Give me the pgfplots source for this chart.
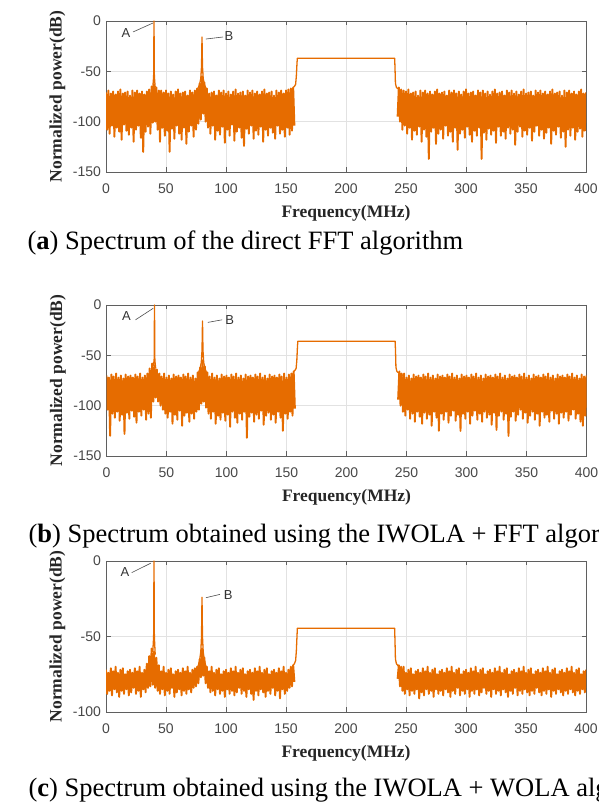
\documentclass[border=0pt]{standalone}
\usepackage{fontspec}
\setmainfont{Liberation Serif}
\setsansfont{Liberation Sans}
\usepackage{pgfplots}
\usepackage{pgfplotstable}
\pgfplotsset{compat=1.18}

\definecolor{spec}{RGB}{230,108,0}
\definecolor{axgray}{RGB}{95,95,95}
\definecolor{gridgray}{RGB}{226,226,226}

% noise floor of the three spectra (dB), columns a, b, c = panels (a), (b), (c)
\pgfplotstableread{
x a b c
0 -71 -70 -72
1 -108 -104 -88
2 -69 -72 -74
3 -112 -130 -86
4 -72 -69 -71
5 -104 -108 -89
6 -70 -71 -73
7 -115 -112 -85
8 -73 -68 -70
9 -106 -106 -87
10 -70 -72 -74
11 -110 -115 -90
12 -68 -70 -72
13 -118 -109 -86
14 -72 -73 -71
15 -103 -128 -88
16 -71 -69 -75
17 -109 -107 -85
18 -70 -71 -73
19 -113 -113 -89
20 -74 -70 -72
21 -106 -105 -87
22 -69 -72 -74
23 -120 -111 -84
24 -71 -69 -71
25 -108 -117 -88
26 -69 -71 -73
27 -104 -106 -86
28 -72 -68 -70
29 -116 -110 -90
30 -70 -72 -74
31 -130 -104 -85
32 -73 -70 -72
33 -110 -114 -87
34 -70 -68 -68
35 -105 -108 -84
36 -68 -63 -63
37 -112 -112 -83
38 -65 -58 -58
39 -101 -96 -82
40 -63 -60 -60
41 -100 -92 -84
42 -66 -64 -64
43 -108 -96 -86
44 -69 -68 -69
45 -120 -100 -88
46 -69 -71 -73
47 -106 -104 -85
48 -71 -68 -70
49 -114 -108 -89
50 -69 -72 -74
51 -109 -112 -86
52 -72 -70 -72
53 -130 -106 -88
54 -70 -73 -71
55 -107 -118 -84
56 -73 -69 -75
57 -117 -109 -90
58 -70 -71 -73
59 -104 -114 -87
60 -68 -70 -72
61 -112 -105 -85
62 -72 -72 -74
63 -118 -120 -89
64 -71 -69 -71
65 -106 -110 -86
66 -70 -71 -73
67 -122 -107 -88
68 -74 -68 -70
69 -110 -116 -85
70 -69 -72 -74
71 -104 -108 -87
72 -71 -70 -72
73 -115 -113 -84
74 -69 -73 -71
75 -108 -106 -83
76 -67 -67 -70
77 -102 -104 -81
78 -62 -62 -65
79 -98 -98 -77
80 -55 -55 -58
81 -92 -96 -76
82 -61 -61 -64
83 -100 -102 -81
84 -67 -67 -70
85 -106 -108 -84
86 -72 -71 -73
87 -112 -113 -87
88 -71 -68 -70
89 -104 -106 -86
90 -70 -72 -74
91 -118 -118 -89
92 -74 -70 -72
93 -109 -110 -85
94 -69 -73 -71
95 -113 -114 -88
96 -71 -69 -75
97 -105 -107 -86
98 -69 -71 -73
99 -121 -115 -90
100 -72 -70 -72
101 -108 -109 -85
102 -70 -72 -74
103 -114 -121 -88
104 -73 -69 -71
105 -103 -106 -86
106 -70 -71 -73
107 -119 -112 -89
108 -68 -68 -70
109 -110 -117 -87
110 -72 -72 -74
111 -106 -108 -84
112 -71 -70 -72
113 -116 -114 -88
114 -70 -73 -71
115 -124 -106 -86
116 -74 -69 -75
117 -107 -132 -90
118 -69 -71 -73
119 -112 -111 -85
120 -71 -70 -72
121 -104 -107 -88
122 -69 -72 -74
123 -117 -116 -92
124 -72 -69 -71
125 -109 -109 -86
126 -70 -71 -73
127 -113 -113 -89
128 -73 -68 -70
129 -105 -105 -85
130 -70 -72 -74
131 -120 -119 -87
132 -68 -70 -72
133 -108 -110 -90
134 -72 -73 -71
135 -114 -107 -86
136 -71 -69 -75
137 -106 -114 -88
138 -70 -71 -73
139 -111 -109 -84
140 -74 -70 -72
141 -117 -117 -89
142 -69 -72 -74
143 -104 -106 -86
144 -71 -69 -71
145 -112 -112 -91
146 -69 -71 -73
147 -108 -125 -85
148 -72 -68 -70
149 -115 -108 -88
150 -69 -72 -74
151 -106 -113 -86
152 -68 -69 -72
153 -113 -106 -84
154 -67 -68 -70
155 -109 -110 -83
156 -66 -66 -69
157 -104 -103 -80
200 nan nan nan
243 -95 -94 -78
244 -66 -66 -69
245 -100 -100 -83
246 -68 -68 -70
247 -108 -106 -86
248 -69 -68 -70
249 -104 -110 -88
250 -70 -72 -74
251 -112 -104 -85
252 -68 -70 -72
253 -106 -113 -89
254 -72 -73 -71
255 -118 -108 -86
256 -71 -69 -75
257 -109 -116 -88
258 -70 -71 -73
259 -113 -106 -85
260 -74 -70 -72
261 -105 -111 -91
262 -69 -72 -74
263 -120 -118 -87
264 -71 -69 -71
265 -108 -107 -89
266 -69 -71 -73
267 -115 -113 -85
268 -72 -68 -70
269 -137 -109 -88
270 -70 -72 -74
271 -110 -120 -86
272 -73 -70 -72
273 -106 -106 -90
274 -70 -73 -71
275 -122 -112 -85
276 -68 -69 -75
277 -112 -125 -88
278 -72 -71 -73
279 -108 -108 -86
280 -71 -70 -72
281 -117 -114 -89
282 -70 -72 -74
283 -104 -106 -85
284 -74 -69 -71
285 -114 -117 -87
286 -69 -71 -73
287 -110 -110 -90
288 -71 -68 -70
289 -120 -105 -86
290 -69 -72 -74
291 -106 -115 -88
292 -72 -70 -72
293 -128 -109 -84
294 -70 -73 -71
295 -112 -125 -89
296 -73 -69 -75
297 -108 -108 -86
298 -70 -71 -73
299 -116 -113 -88
300 -68 -70 -72
301 -105 -106 -85
302 -72 -72 -74
303 -113 -118 -90
304 -71 -69 -71
305 -120 -110 -86
306 -70 -71 -73
307 -109 -105 -88
308 -74 -68 -70
309 -114 -114 -85
310 -69 -72 -74
311 -106 -108 -89
312 -71 -70 -72
313 -137 -116 -87
314 -69 -73 -71
315 -111 -106 -84
316 -72 -69 -75
317 -118 -112 -88
318 -70 -71 -73
319 -107 -109 -86
320 -73 -70 -72
321 -113 -119 -90
322 -70 -72 -74
323 -109 -107 -85
324 -68 -69 -71
325 -121 -124 -88
326 -72 -71 -73
327 -105 -110 -86
328 -71 -68 -70
329 -114 -106 -89
330 -70 -72 -74
331 -110 -114 -85
332 -74 -70 -72
333 -117 -108 -87
334 -69 -73 -71
335 -106 -130 -90
336 -71 -69 -75
337 -112 -111 -86
338 -69 -71 -73
339 -108 -106 -88
340 -72 -70 -72
341 -123 -115 -84
342 -70 -72 -74
343 -110 -109 -89
344 -73 -69 -71
345 -105 -104 -86
346 -70 -71 -73
347 -115 -113 -88
348 -68 -68 -70
349 -109 -107 -85
350 -72 -72 -74
351 -113 -117 -87
352 -71 -70 -72
353 -106 -110 -89
354 -70 -73 -71
355 -119 -106 -86
356 -74 -69 -75
357 -110 -114 -88
358 -69 -71 -73
359 -104 -108 -84
360 -71 -70 -72
361 -114 -120 -87
362 -69 -72 -74
363 -108 -106 -89
364 -72 -69 -71
365 -117 -112 -86
366 -70 -71 -73
367 -111 -109 -88
368 -73 -68 -70
369 -106 -116 -85
370 -70 -72 -74
371 -122 -105 -90
372 -68 -70 -72
373 -109 -113 -86
374 -72 -73 -71
375 -113 -108 -88
376 -71 -69 -75
377 -105 -118 -85
378 -70 -71 -73
379 -116 -107 -87
380 -74 -70 -72
381 -110 -112 -89
382 -69 -72 -74
383 -125 -106 -86
384 -71 -69 -71
385 -108 -115 -88
386 -69 -71 -73
387 -114 -109 -85
388 -72 -68 -70
389 -106 -104 -87
390 -70 -72 -74
391 -118 -113 -89
392 -73 -70 -72
393 -110 -108 -86
394 -70 -73 -71
395 -107 -116 -88
396 -68 -69 -75
397 -115 -120 -85
398 -72 -71 -73
399 -109 -110 -87
400 -71 -70 -72
}\noise

\pgfplotsset{
  spectrum/.style={
    scale only axis, width=480pt, height=151pt,
    xmin=0, xmax=400, xtick={0,50,...,400},
    axis line style={axgray, line width=0.6pt},
    tick style={axgray, line width=0.6pt},
    major tick length=4.5pt,
    tick align=inside,
    grid=major,
    major grid style={gridgray, line width=0.6pt},
    /pgf/number format/assume math mode=true,
    ticklabel style={font=\sffamily\fontsize{14}{14}\selectfont, text=black!72},
    xticklabel style={yshift=-8pt},
    yticklabel style={xshift=-1.5pt},
    xlabel={Frequency(MHz)},
    ylabel={Normalized power(dB)},
    label style={font=\bfseries\fontsize{17.5}{17.5}\selectfont, text=black!85},
    xlabel style={at={(axis description cs:0.5,-0.272)}, anchor=center, inner sep=0pt},
    ylabel style={at={(axis description cs:-0.101,0.5)}, anchor=center, inner sep=0pt},
    every axis plot/.append style={line width=1.3pt, line join=round},
    every axis plot post/.append style={spec, mark=none},
    unbounded coords=jump,
  },
  floor/.style={line width=1.9pt},
}
\tikzset{
  peaklabel/.style={font=\sffamily\fontsize{13}{13}\selectfont, text=black!80, inner sep=0pt},
  leader/.style={black!70, line width=0.6pt},
}

\newcommand{\capfont}{\fontsize{26.5}{26.5}\selectfont}

\begin{document}
\begin{tikzpicture}
\path[use as bounding box] (0,0) rectangle (598pt,803pt);

% (a) direct FFT
\begin{axis}[spectrum, at={(106pt,631pt)}, anchor=south west,
  ymin=-150, ymax=0, ytick={-150,-100,-50,0}]
  \addplot[floor] table[x=x, y=a] {\noise};
  \addplot coordinates {(156,-66) (157,-65) (158,-63) (158.6,-55) (159.2,-41) (159.5,-37)
    (240.5,-37) (240.8,-45) (241.2,-62) (242,-66) (244,-68) (247,-70)};
  \addplot coordinates {(39,-66) (39.7,-55) (40,0) (40.3,-55) (41,-66)};
  \addplot coordinates {(76,-68) (77,-66) (78,-63) (79,-57) (79.6,-45) (80,-16)
    (80.4,-45) (81,-57) (82,-63) (83,-66) (84,-68)};
  \draw[leader] (axis cs:22.5,-10.9) -- (axis cs:39.2,-2);
  \node[peaklabel] at (axis cs:16.7,-11.9) {A};
  \draw[leader] (axis cs:83.3,-17.9) -- (axis cs:97.5,-15.9);
  \node[peaklabel] at (axis cs:102.5,-14.9) {B};
\end{axis}
\node[anchor=base west, font=\capfont] at (24pt,553pt) {(\textbf{a}) Spectrum of the direct FFT algorithm};

% (b) IWOLA + FFT
\begin{axis}[spectrum, at={(106.5pt,347pt)}, anchor=south west,
  ymin=-150, ymax=0, ytick={-150,-100,-50,0}]
  \addplot[floor] table[x=x, y=b] {\noise};
  \addplot coordinates {(156,-66) (157,-65) (158,-63) (158.6,-55) (159.2,-40) (159.5,-36)
    (240.5,-36) (240.8,-44) (241.2,-62) (242,-66) (244,-68) (247,-70)};
  \addplot coordinates {(38,-58) (39,-60) (39.7,-55) (40,0) (40.3,-55) (41,-63)};
  \addplot coordinates {(76,-68) (77,-66) (78,-63) (79,-57) (79.6,-45) (80,-16)
    (80.4,-45) (81,-57) (82,-63) (83,-66) (84,-68)};
  \draw[leader] (axis cs:24.2,-14.7) -- (axis cs:38.9,-3.3);
  \node[peaklabel] at (axis cs:16.7,-11.3) {A};
  \draw[leader] (axis cs:84.4,-17.3) -- (axis cs:96.4,-14.7);
  \node[peaklabel] at (axis cs:102.7,-15) {B};
\end{axis}
\node[anchor=base west, font=\capfont] at (25pt,260pt) {(\textbf{b}) Spectrum obtained using the IWOLA + FFT algor};

% (c) IWOLA + WOLA
\begin{axis}[spectrum, at={(106pt,91pt)}, anchor=south west,
  ymin=-100, ymax=0, ytick={-100,-50,0}]
  \addplot[floor] table[x=x, y=c] {\noise};
  \addplot coordinates {(156,-69) (157,-68) (158,-66) (158.6,-60) (159.2,-49) (159.5,-44.5)
    (240.5,-44.5) (240.8,-52) (241.2,-65) (242,-68) (244,-70) (247,-72)};
  \addplot coordinates {(38,-58) (39,-60) (39.7,-50) (40,0) (40.3,-50) (41,-62)};
  \addplot coordinates {(76,-71) (77,-69) (78,-66) (79,-60) (79.6,-50) (80,-24)
    (80.4,-50) (81,-60) (82,-66) (83,-69) (84,-71)};
  \draw[leader] (axis cs:21.4,-7.7) -- (axis cs:37.2,-1.5);
  \node[peaklabel] at (axis cs:15.8,-7.1) {A};
  \draw[leader] (axis cs:83.3,-24.3) -- (axis cs:95,-22.1);
  \node[peaklabel] at (axis cs:101.9,-22.5) {B};
\end{axis}
\node[anchor=base west, font=\capfont] at (25pt,6pt) {(\textbf{c}) Spectrum obtained using the IWOLA + WOLA alg};
\end{tikzpicture}
\end{document}
